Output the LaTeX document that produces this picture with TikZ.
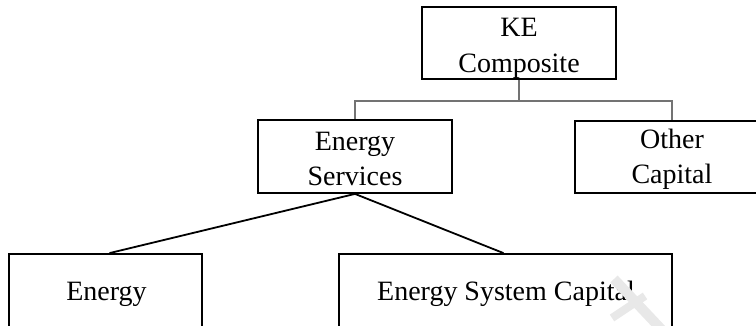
\documentclass[tikz,border=0pt]{standalone}
\usepackage{fontspec}
\setmainfont{Liberation Serif}
\begin{document}
\begin{tikzpicture}[x=1pt,y=-1pt,
  box/.style={draw=black, line width=1.8pt, rectangle, inner sep=0},
  lbl/.style={anchor=base, inner sep=0, align=center, font=\fontsize{28}{35.5}\selectfont},
  elbow/.style={draw=black!55, line width=1.1pt},
  spoke/.style={draw=black, line width=1.8pt},
  wmark/.style={draw=gray!18, line width=10pt}]
\clip (0,0) rectangle (756,325);
\fill[white] (0,0) rectangle (756,325);
% boxes
\node[box, minimum width=194pt, minimum height=72pt] (ke)  at (519,43) {};
\node[box, minimum width=194pt, minimum height=73pt] (es)  at (355,156.5) {};
\node[box, minimum width=194pt, minimum height=72pt] (oc)  at (672,157) {};
\node[box, minimum width=193pt, minimum height=90pt] (en)  at (105.5,299) {};
\node[box, minimum width=333pt, minimum height=90pt] (esc) at (505.5,299) {};
% labels (anchored at the baseline of the last line)
\node[lbl] (keT)  at (519,72)  {KE\\Composite};
\node[lbl] (esT)  at (355,185.5)  {Energy\\Services};
\node[lbl] (ocT)  at (672,183.5)  {Other\\Capital};
\node[lbl] (enT)  at (106.5,300) {Energy};
\node[lbl] (escT) at (506,300) {Energy System Capital};
% connectors
\coordinate (jn) at (519,101);
\draw[elbow] (ke.south) -- (jn);
\draw[elbow] (es.north) |- (jn) -| (oc.north);
\draw[spoke] (es.south) -- ([xshift=4pt]en.north);
\draw[spoke] (es.south) -- ([xshift=-2pt]esc.north);
% watermark fragment
\draw[wmark] (614,279) -- (662,330);
\draw[wmark, line width=8pt] (612,318) -- (645,296);
\end{tikzpicture}
\end{document}
